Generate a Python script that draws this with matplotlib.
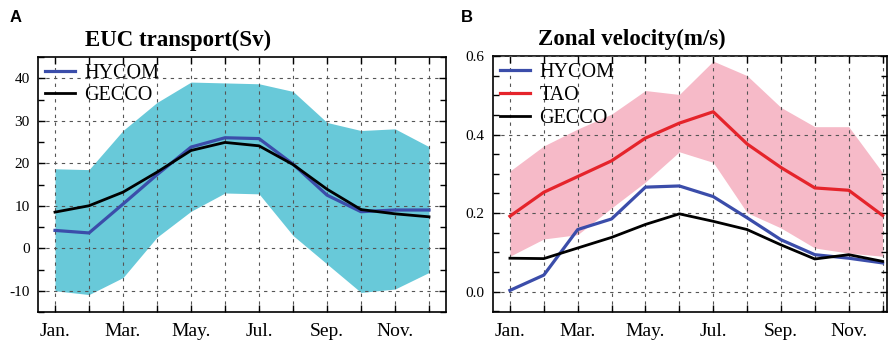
import matplotlib
matplotlib.use("Agg")
import matplotlib.pyplot as plt
from matplotlib.ticker import MultipleLocator

months = list(range(1, 13))
month_labels = ["Jan.", "", "Mar.", "", "May.", "", "Jul.", "", "Sep.", "", "Nov.", ""]

# Panel A: EUC transport (Sv)
euc_hycom = [4.2, 3.6, 10.4, 17.3, 23.8, 26.0, 25.8, 19.8, 12.5, 8.6, 9.0, 9.0]
euc_gecco = [8.5, 10.0, 13.2, 17.9, 23.0, 24.9, 24.1, 19.7, 13.9, 9.1, 8.1, 7.4]
euc_upper = [18.7, 18.5, 27.7, 34.3, 39.1, 38.9, 38.7, 36.9, 29.6, 27.7, 28.1, 23.9]
euc_lower = [-10.0, -10.9, -6.9, 2.6, 8.7, 13.0, 12.8, 3.0, -3.7, -10.4, -9.6, -5.7]

# Panel B: Zonal velocity (m/s)
vel_hycom = [0.003, 0.042, 0.158, 0.185, 0.266, 0.269, 0.242, 0.188, 0.132, 0.094, 0.085, 0.073]
vel_tao = [0.192, 0.253, 0.293, 0.333, 0.391, 0.429, 0.458, 0.376, 0.316, 0.264, 0.258, 0.194]
vel_gecco = [0.085, 0.084, 0.111, 0.138, 0.171, 0.198, 0.179, 0.158, 0.119, 0.083, 0.094, 0.077]
vel_upper = [0.307, 0.371, 0.414, 0.452, 0.512, 0.502, 0.587, 0.550, 0.469, 0.420, 0.420, 0.303]
vel_lower = [0.090, 0.134, 0.145, 0.213, 0.279, 0.356, 0.329, 0.201, 0.162, 0.111, 0.098, 0.090]

serif = ["Liberation Serif", "DejaVu Serif"]
BLUE = "#3B4DAA"
RED = "#E5242B"
BLACK = "#000000"
CYAN = "#68C9D9"
PINK = "#F6BAC8"

fig = plt.figure(figsize=(8.88, 3.42), dpi=100)
axA = fig.add_axes([38/888, 30/342, 408/888, 255/342])
axB = fig.add_axes([493/888, 30/342, 394/888, 256/342])


def style(ax, ylim, ymajor, yminor, xlim, yfmt):
    ax.set_xlim(*xlim)
    ax.set_ylim(*ylim)
    ax.set_xticks(months)
    ax.set_xticklabels(month_labels, fontfamily=serif, fontsize=14)
    ax.yaxis.set_major_locator(MultipleLocator(ymajor))
    ax.yaxis.set_minor_locator(MultipleLocator(yminor))
    ax.yaxis.set_major_formatter(yfmt)
    for lab in ax.get_yticklabels():
        lab.set_fontfamily(serif)
        lab.set_fontsize(11)
    ax.tick_params(axis="both", which="both", direction="in", top=True, right=True,
                   width=1.0, color="black")
    ax.tick_params(axis="both", which="major", length=5)
    ax.tick_params(axis="y", which="minor", length=4)
    ax.tick_params(axis="x", which="major", pad=8)
    ax.tick_params(axis="y", which="major", pad=6)
    ax.set_axisbelow(False)
    ax.grid(True, which="major", linestyle=(0, (3, 4)), color="#555555", linewidth=0.8)
    for s in ax.spines.values():
        s.set_linewidth(1.2)


# Panel A
axA.fill_between(months, euc_lower, euc_upper, color=CYAN, linewidth=0, zorder=1)
axA.plot(months, euc_hycom, color=BLUE, lw=2.3, label="HYCOM", zorder=3)
axA.plot(months, euc_gecco, color=BLACK, lw=2.0, label="GECCO", zorder=3)
style(axA, (-15, 45), 10, 5, (0.5, 12.5), matplotlib.ticker.FormatStrFormatter("%d"))
axA.text(0.115, 1.025, "EUC transport(Sv)", transform=axA.transAxes, fontfamily=serif,
         fontsize=16.5, fontweight="bold", ha="left", va="bottom")
legA = axA.legend(loc="upper left", frameon=False, prop={"family": serif, "size": 14.5},
                  handlelength=1.5, handletextpad=0.45, labelspacing=0.12,
                  borderaxespad=0.1, borderpad=0.25)

# Panel B
axB.fill_between(months, vel_lower, vel_upper, color=PINK, linewidth=0, zorder=1)
axB.plot(months, vel_hycom, color=BLUE, lw=2.3, label="HYCOM", zorder=3)
axB.plot(months, vel_tao, color=RED, lw=2.3, label="TAO", zorder=3)
axB.plot(months, vel_gecco, color=BLACK, lw=2.0, label="GECCO", zorder=3)
style(axB, (-0.052, 0.6), 0.2, 0.05, (0.5, 12.13), matplotlib.ticker.FormatStrFormatter("%.1f"))
axB.text(0.115, 1.025, "Zonal velocity(m/s)", transform=axB.transAxes, fontfamily=serif,
         fontsize=16.5, fontweight="bold", ha="left", va="bottom")
legB = axB.legend(loc="upper left", frameon=False, prop={"family": serif, "size": 14.5},
                  handlelength=1.5, handletextpad=0.45, labelspacing=0.2,
                  borderaxespad=0.1, borderpad=0.25)

fig.text(10/888, 1 - 18/342, "A", fontfamily=["Liberation Sans", "DejaVu Sans"],
         fontsize=12, fontweight="bold", ha="left", va="center")
fig.text(461/888, 1 - 18/342, "B", fontfamily=["Liberation Sans", "DejaVu Sans"],
         fontsize=12, fontweight="bold", ha="left", va="center")

fig.savefig("out.png", dpi=100)
